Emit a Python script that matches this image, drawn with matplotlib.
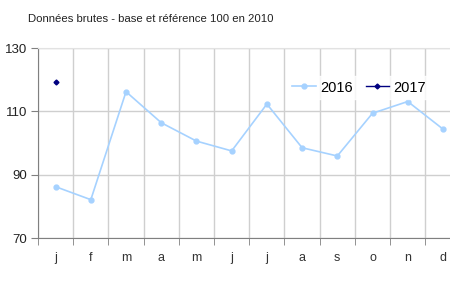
import matplotlib
matplotlib.use("Agg")
import matplotlib.pyplot as plt
from matplotlib.ticker import FixedLocator

plt.rcParams['font.family'] = ['Liberation Sans', 'DejaVu Sans']

months = ['j', 'f', 'm', 'a', 'm', 'j', 'j', 'a', 's', 'o', 'n', 'd']
values_2016 = [86.2, 82.1, 116.2, 106.4, 100.6, 97.5, 112.3, 98.5, 95.9, 109.4, 113.1, 104.4]
values_2017 = [119.2]
yticks = [70, 90, 110, 130]
title = "Données brutes - base et référence 100 en 2010"

fig = plt.figure(figsize=(4.5, 2.91), dpi=100)
ax = fig.add_axes([38/450, 53/291, 1 - 38/450, 190/291])

x16 = list(range(len(values_2016)))
x17 = list(range(len(values_2017)))
ax.plot(x16, values_2016, color='#a6d2ff', lw=1.2, marker='o', ms=3.5, label='2016', zorder=3)
ax.plot(x17, values_2017, color='#000080', lw=1.0, marker='D', ms=2.5, label='2017', zorder=3)

ax.set_xlim(-0.5, 11.2)
ax.set_ylim(70, 130)
ax.set_yticks(yticks)
ax.set_xticks(x16)
ax.set_xticklabels(months)
ax.xaxis.set_minor_locator(FixedLocator([i - 0.5 for i in range(13)]))
ax.tick_params(axis='x', which='major', length=0, pad=10, labelsize=9, colors='#333333')
ax.tick_params(axis='x', which='minor', length=5, color='#808080')
ax.tick_params(axis='y', length=5, color='#808080', labelsize=9.5, labelcolor='#222222', pad=3)

ax.grid(True, axis='x', which='minor', color='#cfcfcf', lw=1)
ax.grid(True, axis='y', which='major', color='#cfcfcf', lw=1)
ax.spines['top'].set_visible(True)
ax.spines['top'].set_color('#e2e2e2')
ax.spines['right'].set_visible(False)
for s in ['left', 'bottom']:
    ax.spines[s].set_color('#808080')

leg = ax.legend(loc='upper right', bbox_to_anchor=(0.97, 0.89), ncol=2, frameon=True,
                fontsize=10.5, handlelength=1.6, handletextpad=0.3, columnspacing=0.9,
                borderpad=0.3, fancybox=False)
leg.get_frame().set_edgecolor('white')
leg.get_frame().set_facecolor('white')

fig.text(28/450, 1 - 19/291, title, fontsize=8.2, color='#222222', va='center', ha='left')

fig.savefig('out.png', dpi=100)
